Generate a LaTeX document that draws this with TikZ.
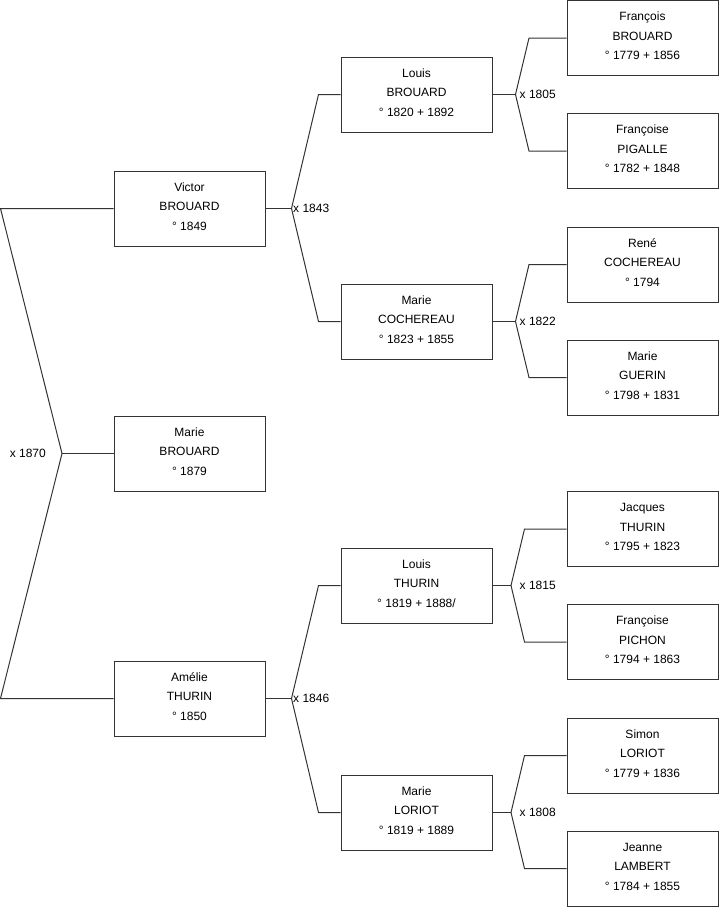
\documentclass[tikz,border=0pt]{standalone}
\usepackage{fontspec}
\setmainfont{Liberation Sans}

\begin{document}
\begin{tikzpicture}[x=1pt,y=-1pt,
  person/.style={draw=black!80,line width=1pt,minimum width=151pt,minimum height=75pt,inner sep=0pt,align=center,font=\fontsize{12}{19.5}\selectfont,execute at end node={\rule[-4pt]{0pt}{0pt}}},
  link/.style={draw=black!80,line width=1pt},
  wed/.style={font=\fontsize{12}{14}\selectfont,inner sep=0pt}]
\useasboundingbox (0,0) rectangle (719,908);
% child
\node[person] (marieB) at (189.5,453.5) {Marie\\BROUARD\\° 1879};
% parents
\node[person] (victor) at (189.5,208.5) {Victor\\BROUARD\\° 1849};
\node[person] (amelie) at (189.5,698.5) {Amélie\\THURIN\\° 1850};
% grandparents
\node[person] (louisB) at (416.5,94.5) {Louis\\BROUARD\\° 1820 + 1892};
\node[person] (marieC) at (416.5,321.5) {Marie\\COCHEREAU\\° 1823 + 1855};
\node[person] (louisT) at (416.5,585.5) {Louis\\THURIN\\° 1819 + 1888/};
\node[person] (marieL) at (416.5,812.5) {Marie\\LORIOT\\° 1819 + 1889};
% great-grandparents
\node[person] (francoisB) at (642.5,38) {François\\BROUARD\\° 1779 + 1856};
\node[person] (francoiseP) at (642.5,151) {Françoise\\PIGALLE\\° 1782 + 1848};
\node[person] (reneC) at (642.5,264.5) {René\\COCHEREAU\\° 1794};
\node[person] (marieG) at (642.5,377.5) {Marie\\GUERIN\\° 1798 + 1831};
\node[person] (jacquesT) at (642.5,529) {Jacques\\THURIN\\° 1795 + 1823};
\node[person] (francoisePi) at (642.5,642) {Françoise\\PICHON\\° 1794 + 1863};
\node[person] (simonL) at (642.5,755.5) {Simon\\LORIOT\\° 1779 + 1836};
\node[person] (jeanneL) at (642.5,868.5) {Jeanne\\LAMBERT\\° 1784 + 1855};

% marriage 1870
\coordinate (j1870) at (62,453.5);
\coordinate (t1870) at (0.5,208.5);
\coordinate (b1870) at (0.5,698.5);
\draw[link] (victor.west) -- (t1870) -- (j1870) -- (b1870) -- (amelie.west);
\draw[link] (j1870) -- (marieB.west);
\node[wed,anchor=east] (w1870) at (46,453) {x 1870};

% marriages 1843 and 1846
\coordinate (j1843) at (291.5,208.5);
\draw[link] (victor.east) -- (j1843);
\draw[link] (louisB.west) -- ++(-22,0) -- (j1843) -- ([xshift=-22pt]marieC.west) -- (marieC.west);
\node[wed,anchor=west] (w1843) at (293,208) {x 1843};
\coordinate (j1846) at (291.5,698.5);
\draw[link] (amelie.east) -- (j1846);
\draw[link] (louisT.west) -- ++(-22,0) -- (j1846) -- ([xshift=-22pt]marieL.west) -- (marieL.west);
\node[wed,anchor=west] (w1846) at (293,698) {x 1846};

% marriages 1805, 1822, 1815, 1808
\coordinate (j1805) at (515.5,94.5);
\draw[link] (louisB.east) -- (j1805);
\draw[link] (francoisB.west) -- ++(-37.5,0) -- (j1805) -- ([xshift=-37.5pt]francoiseP.west) -- (francoiseP.west);
\node[wed,anchor=west] (w1805) at (519.5,94) {x 1805};
\coordinate (j1822) at (515.5,321.5);
\draw[link] (marieC.east) -- (j1822);
\draw[link] (reneC.west) -- ++(-37.5,0) -- (j1822) -- ([xshift=-37.5pt]marieG.west) -- (marieG.west);
\node[wed,anchor=west] (w1822) at (519.5,321) {x 1822};
\coordinate (j1815) at (511,585.5);
\draw[link] (louisT.east) -- (j1815);
\draw[link] (jacquesT.west) -- ++(-42,0) -- (j1815) -- ([xshift=-42pt]francoisePi.west) -- (francoisePi.west);
\node[wed,anchor=west] (w1815) at (519.5,585) {x 1815};
\coordinate (j1808) at (511,812.5);
\draw[link] (marieL.east) -- (j1808);
\draw[link] (simonL.west) -- ++(-42,0) -- (j1808) -- ([xshift=-42pt]jeanneL.west) -- (jeanneL.west);
\node[wed,anchor=west] (w1808) at (519.5,812) {x 1808};
\end{tikzpicture}
\end{document}
